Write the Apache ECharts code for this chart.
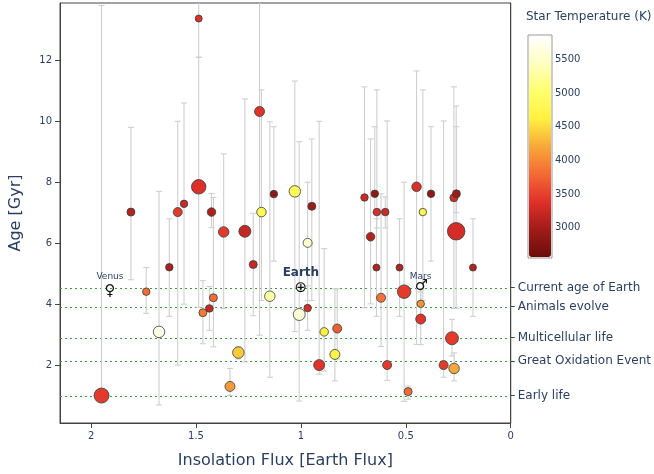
<!DOCTYPE html>
<html>
<head>
<meta charset="utf-8">
<script src="https://cdn.jsdelivr.net/npm/echarts@6/dist/echarts.min.js"></script>
<style>
  html, body { margin: 0; padding: 0; background: #fff; }
  #chart { width: 654px; height: 474px; }
</style>
</head>
<body>
<div id="chart"></div>
<script>
// planets around other stars: insolation flux, age, age error range, marker size, star temperature
var flux = [1.95, 1.81, 1.737, 1.676, 1.627, 1.587, 1.557, 1.487, 1.487, 1.467,
  1.436, 1.426, 1.417, 1.368, 1.338, 1.298, 1.267, 1.227, 1.197, 1.188,
  1.148, 1.129, 1.029, 1.008, 0.968, 0.968, 0.948, 0.913, 0.889, 0.838,
  0.827, 0.697, 0.668, 0.648, 0.640, 0.638, 0.618, 0.598, 0.589, 0.530,
  0.508, 0.489, 0.449, 0.429, 0.429, 0.419, 0.380, 0.32, 0.28, 0.271,
  0.259, 0.26, 0.27, 0.18];
var age = [1.0, 7.02, 4.41, 3.09, 5.21, 7.02, 7.29, 13.37, 7.85, 3.72,
  3.86, 7.02, 4.21, 6.37, 1.30, 2.41, 6.39, 5.30, 10.32, 7.02,
  4.26, 7.61, 7.70, 3.66, 6.01, 3.87, 7.21, 2.0, 3.09, 2.35,
  3.20, 7.50, 6.21, 7.62, 5.20, 7.02, 4.21, 7.02, 2.0, 5.20,
  4.41, 1.13, 7.85, 4.01, 3.51, 7.02, 7.62, 2.0, 2.88, 7.49,
  7.62, 6.39, 1.89, 5.20];
var ageLow = [0.9, 4.8, 3.7, 0.69, 3.6, 2.0, 4.0, 12.1, 3.9, 2.7,
  3.14, 6.51, 2.6, 3.86, 1.0, 2.2, 2.1, 3.62, 2.98, 4.12,
  1.6, 5.41, 3.1, 0.82, 4.11, 3.14, 4.12, 1.7, 1.8, 1.48,
  2.2, 3.88, 4.01, 7.0, 3.6, 6.5, 2.61, 6.5, 1.5, 3.6,
  0.81, 0.88, 2.68, 3.5, 2.67, 4.12, 5.41, 1.6, 2.3, 3.86,
  7.0, 3.86, 1.48, 3.6];
var ageHigh = [13.8, 9.8, 5.2, 7.7, 6.8, 10.0, 10.6, 15.0, 12.1, 4.77,
  4.58, 7.63, 7.5, 8.93, 1.89, 2.6, 10.73, 6.98, 15.0, 11.03,
  9.98, 9.82, 11.32, 9.33, 8.0, 4.6, 9.42, 10.0, 5.82, 4.5,
  4.5, 11.13, 9.42, 9.82, 6.8, 11.03, 7.62, 7.52, 10.01, 6.8,
  8.0, 1.31, 11.65, 4.5, 4.4, 11.03, 9.82, 10.01, 3.5, 11.13,
  9.82, 10.5, 2.4, 6.8];
var markerSize = [15, 8, 7.5, 11.5, 7.5, 9, 7.5, 7, 14.5, 8,
  7.5, 8.5, 8, 10.5, 10, 11.5, 12, 8, 10, 9.5,
  10.5, 7.5, 11.5, 12, 9, 7.5, 8, 11, 8.5, 10,
  9, 7.5, 8.5, 7.5, 7, 7.5, 9, 7.5, 9, 7,
  13.5, 8, 9.5, 7.5, 10, 7.5, 7.5, 9, 13, 8,
  8, 17.5, 10.5, 7];
var starTemp = [3450, 3100, 3800, 5700, 3050, 3450, 3250, 3350, 3350, 3900,
  3200, 3050, 3800, 3450, 4100, 4400, 3200, 3200, 3400, 4800,
  5300, 2850, 4850, 5600, 5550, 3300, 2950, 3400, 4600, 4700,
  3700, 3250, 3100, 2850, 3100, 3350, 3850, 3250, 3450, 3100,
  3450, 3800, 3350, 4050, 3400, 4750, 2850, 3450, 3450, 3300,
  2950, 3300, 4200, 3100];

// solar system references
var planetNames = ['Venus', 'Earth', 'Mars'];
var planetGlyphs = ['\u2640', '\u2295', '\u2642'];
var planetFlux = [1.91, 1.0, 0.43];
var planetAge = [4.54, 4.54, 4.54];

// milestones of life on Earth (age of Earth at the event, Gyr)
var eventNames = ['Early life', 'Great Oxidation Event', 'Multicellular life', 'Animals evolve', 'Current age of Earth'];
var eventAges = [1.0, 2.14, 2.9, 3.92, 4.54];

var xTicks = [0, 0.5, 1, 1.5, 2];
var yTicks = [2, 4, 6, 8, 10, 12];
var tempTicks = [3000, 3500, 4000, 4500, 5000, 5500];
var tempMin = 2550, tempMax = 5860;

var font = 'DejaVu Sans';
var textColor = '#2a3f5f';
var lineColor = '#444';

var stars = [];
var bars = [];
for (var i = 0; i < flux.length; i++) {
  stars.push([flux[i], age[i], markerSize[i], starTemp[i]]);
  bars.push([flux[i], ageLow[i], ageHigh[i]]);
}
var planets = [];
for (var k = 0; k < planetNames.length; k++) {
  planets.push([planetFlux[k], planetAge[k], planetGlyphs[k], planetNames[k]]);
}

// nudge each glyph so its ring sits on the point
var glyphOffset = { Venus: [0, 3], Earth: [0, 0], Mars: [1, -2] };

var chart = echarts.init(document.getElementById('chart'), null, { renderer: 'canvas' });

var option = {
  animation: false,
  backgroundColor: '#ffffff',
  textStyle: { fontFamily: font },
  title: {
    text: 'Star Temperature (K)',
    left: 526,
    top: 11,
    padding: 0,
    textStyle: { fontFamily: font, fontSize: 12, fontWeight: 'normal', color: textColor }
  },
  grid: [
    { left: 60, right: 143, top: 3, bottom: 50, show: true, borderColor: lineColor, borderWidth: 1, backgroundColor: 'transparent' },
    { left: 528, top: 35, width: 24, height: 223, show: true, borderColor: '#999', borderWidth: 1, backgroundColor: 'transparent' }
  ],
  visualMap: {
    type: 'continuous',
    seriesIndex: 2,
    dimension: 3,
    min: tempMin,
    max: tempMax,
    show: true,
    calculable: false,
    hoverLink: false,
    left: 529,
    top: 36,
    itemWidth: 22,
    itemHeight: 221,
    padding: 0,
    text: null,
    inRange: {
      color: ['#6b0d0b', '#a01c18', '#e0302a', '#f46a35', '#f8a83a', '#fff03f', '#ffff6e', '#ffffc0', '#ffffff']
    }
  },
  xAxis: [
    {
      type: 'value',
      min: 0,
      max: 2.148,
      inverse: true,
      name: 'Insolation Flux [Earth Flux]',
      nameLocation: 'middle',
      nameGap: 30,
      nameTextStyle: { fontFamily: font, fontSize: 16, color: textColor },
      axisLine: { show: true, onZero: false, lineStyle: { color: lineColor } },
      axisTick: { show: true, length: 5, customValues: xTicks, lineStyle: { color: lineColor } },
      axisLabel: { customValues: xTicks, fontSize: 10, color: textColor, margin: 8 },
      splitLine: { show: false }
    },
    { type: 'category', gridIndex: 1, show: false, data: [''] }
  ],
  yAxis: [
    {
      type: 'value',
      min: 0.1,
      max: 13.88,
      name: 'Age [Gyr]',
      nameLocation: 'middle',
      nameGap: 36,
      nameTextStyle: { fontFamily: font, fontSize: 16, color: textColor },
      axisLine: { show: true, onZero: false, lineStyle: { color: lineColor } },
      axisTick: { show: true, length: 5, customValues: yTicks, lineStyle: { color: lineColor } },
      axisLabel: { customValues: yTicks, fontSize: 10, color: textColor, margin: 8 },
      splitLine: { show: false }
    },
    {
      type: 'value',
      position: 'right',
      min: 0.1,
      max: 13.88,
      axisLine: { show: true, onZero: false, lineStyle: { color: lineColor } },
      axisTick: { show: true, length: 4, customValues: eventAges, lineStyle: { color: lineColor } },
      axisLabel: {
        customValues: eventAges,
        fontSize: 12,
        color: textColor,
        margin: 7,
        formatter: function (v) {
          for (var j = 0; j < eventAges.length; j++) {
            if (Math.abs(eventAges[j] - v) < 1e-6) return eventNames[j];
          }
          return '';
        }
      },
      splitLine: { show: false }
    },
    {
      type: 'value',
      gridIndex: 1,
      position: 'right',
      min: tempMin,
      max: tempMax,
      axisLine: { show: false },
      axisTick: { show: false },
      splitLine: { show: false },
      axisLabel: {
        customValues: tempTicks,
        fontSize: 10,
        color: textColor,
        margin: 3,
        formatter: function (v) { return String(v); }
      }
    }
  ],
  series: [
    {
      // dotted milestone lines across the plot
      type: 'custom',
      z: 1,
      silent: true,
      clip: true,
      data: eventAges.map(function (v) { return [0, v]; }),
      encode: { x: 0, y: 1 },
      renderItem: function (params, api) {
        var cs = params.coordSys;
        var y = Math.round(api.coord([0, api.value(1)])[1]) + 0.5;
        return {
          type: 'line',
          shape: { x1: cs.x, y1: y, x2: cs.x + cs.width, y2: y },
          style: { stroke: '#3f9a3f', lineWidth: 1, lineDash: [2, 3] }
        };
      }
    },
    {
      // age error bars
      type: 'custom',
      z: 2,
      clip: true,
      silent: true,
      data: bars,
      encode: { x: 0, y: [1, 2] },
      renderItem: function (params, api) {
        var x = api.value(0);
        var top = api.coord([x, api.value(2)]);
        var bot = api.coord([x, api.value(1)]);
        var hw = 3;
        var st = { stroke: '#cfcfcf', lineWidth: 1.1 };
        return {
          type: 'group',
          children: [
            { type: 'line', shape: { x1: top[0], y1: top[1], x2: bot[0], y2: bot[1] }, style: st },
            { type: 'line', shape: { x1: top[0] - hw, y1: top[1], x2: top[0] + hw, y2: top[1] }, style: st },
            { type: 'line', shape: { x1: bot[0] - hw, y1: bot[1], x2: bot[0] + hw, y2: bot[1] }, style: st }
          ]
        };
      }
    },
    {
      type: 'scatter',
      z: 3,
      data: stars,
      symbolSize: function (v) { return v[2]; },
      itemStyle: { borderColor: '#2f3f3f', borderWidth: 0.8, opacity: 1 },
      emphasis: { disabled: true }
    },
    {
      // planet glyphs
      type: 'scatter',
      z: 4,
      silent: true,
      data: planets.map(function (d) {
        return { value: d, label: { offset: glyphOffset[d[3]] } };
      }),
      symbolSize: 1,
      itemStyle: { color: 'rgba(0,0,0,0)' },
      label: {
        show: true,
        position: 'inside',
        fontFamily: 'DejaVu Sans',
        fontSize: 15,
        color: '#111',
        opacity: 1,
        textBorderWidth: 0,
        formatter: function (p) { return p.value[2]; }
      }
    },
    {
      // planet names
      type: 'scatter',
      z: 4,
      silent: true,
      data: planets.map(function (d) {
        var item = { value: d };
        if (d[3] === 'Earth') {
          item.label = { fontSize: 12, fontWeight: 'bold', distance: 8 };
        } else {
          item.label = { fontSize: 9 };
        }
        return item;
      }),
      symbolSize: 1,
      itemStyle: { color: 'rgba(0,0,0,0)' },
      label: {
        show: true,
        position: 'top',
        distance: 6,
        fontFamily: font,
        color: textColor,
        opacity: 1,
        textBorderWidth: 0,
        formatter: function (p) { return p.value[3]; }
      }
    }
  ]
};

chart.setOption(option);
</script>
</body>
</html>
